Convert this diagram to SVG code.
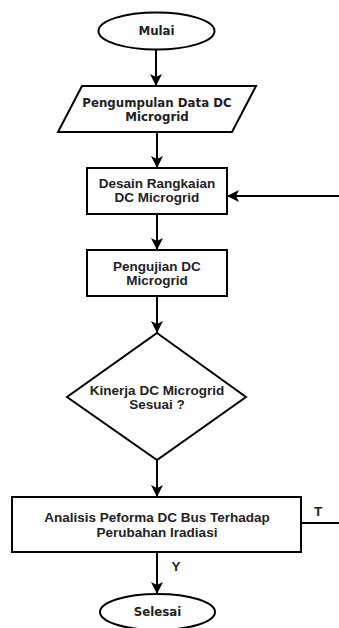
<svg xmlns="http://www.w3.org/2000/svg" width="339" height="628" viewBox="0 0 339 628">
<style>
.s{fill:#fff;stroke:#000;stroke-width:2}
.c{fill:none;stroke:#000;stroke-width:2}
.t{font-family:"Liberation Sans",Arial,sans-serif;font-weight:bold;font-size:13.5px;fill:#222;text-anchor:middle}
.d{font-family:"DejaVu Sans",sans-serif;font-weight:bold;font-size:11.8px;fill:#222;text-anchor:middle}
</style>
<defs>
<marker id="a" markerUnits="userSpaceOnUse" markerWidth="12" markerHeight="12" viewBox="0 0 12 12" refX="11" refY="6" orient="auto">
<path d="M0,0 L12,6 L0,12 L3,6 z" fill="#000"/>
</marker>
</defs>
<g id="connectors">
<line class="c" x1="156" y1="50" x2="156" y2="85" marker-end="url(#a)"/>
<line class="c" x1="157" y1="132" x2="157" y2="167" marker-end="url(#a)"/>
<line class="c" x1="157" y1="214" x2="157" y2="249" marker-end="url(#a)"/>
<line class="c" x1="157" y1="296" x2="157" y2="332" marker-end="url(#a)"/>
<line class="c" x1="157" y1="460" x2="157" y2="496" marker-end="url(#a)"/>
<line class="c" x1="157" y1="552" x2="157" y2="593" marker-end="url(#a)"/>
<line class="c" x1="339" y1="196" x2="228" y2="196" marker-end="url(#a)"/>
<line class="c" x1="301" y1="523" x2="339" y2="523"/>
<text class="t" x="318" y="516">T</text>
<text class="t" x="176" y="571">Y</text>
</g>
<g id="mulai">
<ellipse class="s" cx="156.5" cy="31" rx="58" ry="18.5"/>
<text class="d" x="156.5" y="35">Mulai</text>
</g>
<g id="pengumpulan">
<polygon class="s" points="82,86 256,86 232,132 58,132"/>
<text class="d" x="157" y="107">Pengumpulan Data DC</text>
<text class="d" x="157" y="121">Microgrid</text>
</g>
<g id="desain">
<rect class="s" x="87" y="168" width="140" height="46"/>
<text class="t" x="157" y="188">Desain Rangkaian</text>
<text class="t" x="157" y="202">DC Microgrid</text>
</g>
<g id="pengujian">
<rect class="s" x="87" y="250" width="140" height="46"/>
<text class="t" x="157" y="271">Pengujian DC</text>
<text class="t" x="157" y="285">Microgrid</text>
</g>
<g id="kinerja">
<polygon class="s" points="157,333 246,397 157,460 67,397"/>
<text class="t" x="157" y="395">Kinerja DC Microgrid</text>
<text class="t" x="157" y="409">Sesuai ?</text>
</g>
<g id="analisis">
<rect class="s" x="12" y="497" width="289" height="55"/>
<text class="t" x="157" y="522">Analisis Peforma DC Bus Terhadap</text>
<text class="t" x="157" y="537">Perubahan Iradiasi</text>
</g>
<g id="selesai">
<ellipse class="s" cx="157.5" cy="612" rx="57.5" ry="18"/>
<text class="d" x="157.5" y="616">Selesai</text>
</g>
</svg>
